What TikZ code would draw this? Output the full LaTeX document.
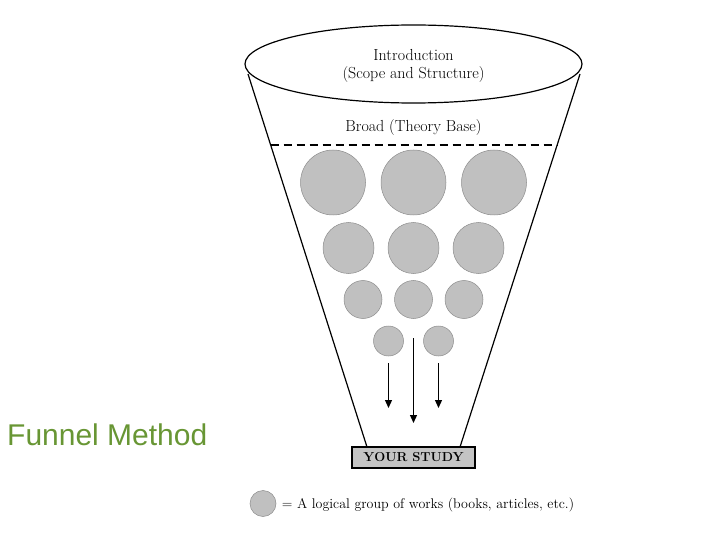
\documentclass[tikz,border=0pt]{standalone}
\usepackage{fontspec}
\newfontfamily\titlefont{Liberation Sans}
\usetikzlibrary{arrows.meta, positioning, shapes.geometric}
\definecolor{titlegreen}{RGB}{104,150,52}
\definecolor{groupgray}{RGB}{192,192,192}
\definecolor{studygray}{RGB}{196,196,196}

\begin{document}
\begin{tikzpicture}[x=1pt, y=-1pt,
                grp/.style={circle, draw=black!45, fill=groupgray, inner sep=0pt, line width=0.5pt},
                side/.style={line width=1.2pt},
                lbl/.style={align=center, font=\fontsize{16}{18}\selectfont},
                arr/.style={-{Triangle[length=8pt, width=7pt]}, line width=1.2pt}]
                \useasboundingbox (0,0) rectangle (720,540);
                % funnel
                \node[ellipse, draw, line width=1.2pt, minimum width=337pt, minimum height=78pt] (intro) at (413.5,64) {};
                \node[lbl] (introtext) at (413.5,66) {Introduction\\(Scope and Structure)};
                \coordinate (tl) at (248,74);
                \coordinate (tr) at (580,74);
                \coordinate (bl) at (367,447);
                \coordinate (br) at (460,447);
                \draw[side] (tl) -- (bl);
                \draw[side] (tr) -- (br);
                \node[lbl] (broad) at (413.5,128) {Broad (Theory Base)};
                \coordinate (dl) at (270.5,145);
                \coordinate (dr) at (557,145);
                \draw[line width=1.6pt, dash pattern=on 8pt off 5pt] (dl) -- (dr);
                % groups of works
                \node[grp, minimum size=65pt] (g11) at (333,182.5) {};
                \node[grp, minimum size=65pt] (g12) at (413.5,182.5) {};
                \node[grp, minimum size=65pt] (g13) at (494,182.5) {};
                \node[grp, minimum size=51pt] (g21) at (348.5,248) {};
                \node[grp, minimum size=51pt] (g22) at (413.5,248) {};
                \node[grp, minimum size=51pt] (g23) at (478.5,248) {};
                \node[grp, minimum size=38pt] (g31) at (363,299.5) {};
                \node[grp, minimum size=38pt] (g32) at (413.5,299.5) {};
                \node[grp, minimum size=38pt] (g33) at (464,299.5) {};
                \node[grp, minimum size=30pt] (g41) at (388.5,341) {};
                \node[grp, minimum size=30pt] (g42) at (438.5,341) {};
                % arrows down to the study
                \coordinate (a1) at (388.5,363);
                \coordinate (b1) at (388.5,408);
                \coordinate (a2) at (413.5,338);
                \coordinate (b2) at (413.5,423);
                \coordinate (a3) at (438.5,363);
                \coordinate (b3) at (438.5,408);
                \draw[arr] (a1) -- (b1);
                \draw[arr] (a2) -- (b2);
                \draw[arr] (a3) -- (b3);
                \node[draw, line width=1.2pt, fill=studygray, minimum width=123pt, minimum height=21pt,
                    font=\fontsize{13}{15}\selectfont\bfseries] (study) at (413.5,457.5) {YOUR STUDY};
                % legend
                \node[grp, minimum size=26pt] (key) at (263,503.5) {};
                \node[right=2pt of key, yshift=-2pt, font=\fontsize{14}{16}\selectfont] (keytext) {= A logical group of works (books, articles, etc.)};
                % title
                \node[anchor=base west, inner sep=0pt, text=titlegreen, font=\titlefont\fontsize{30}{34}\selectfont] (title) at (7,445) {Funnel Method};
            \end{tikzpicture}
\end{document}
